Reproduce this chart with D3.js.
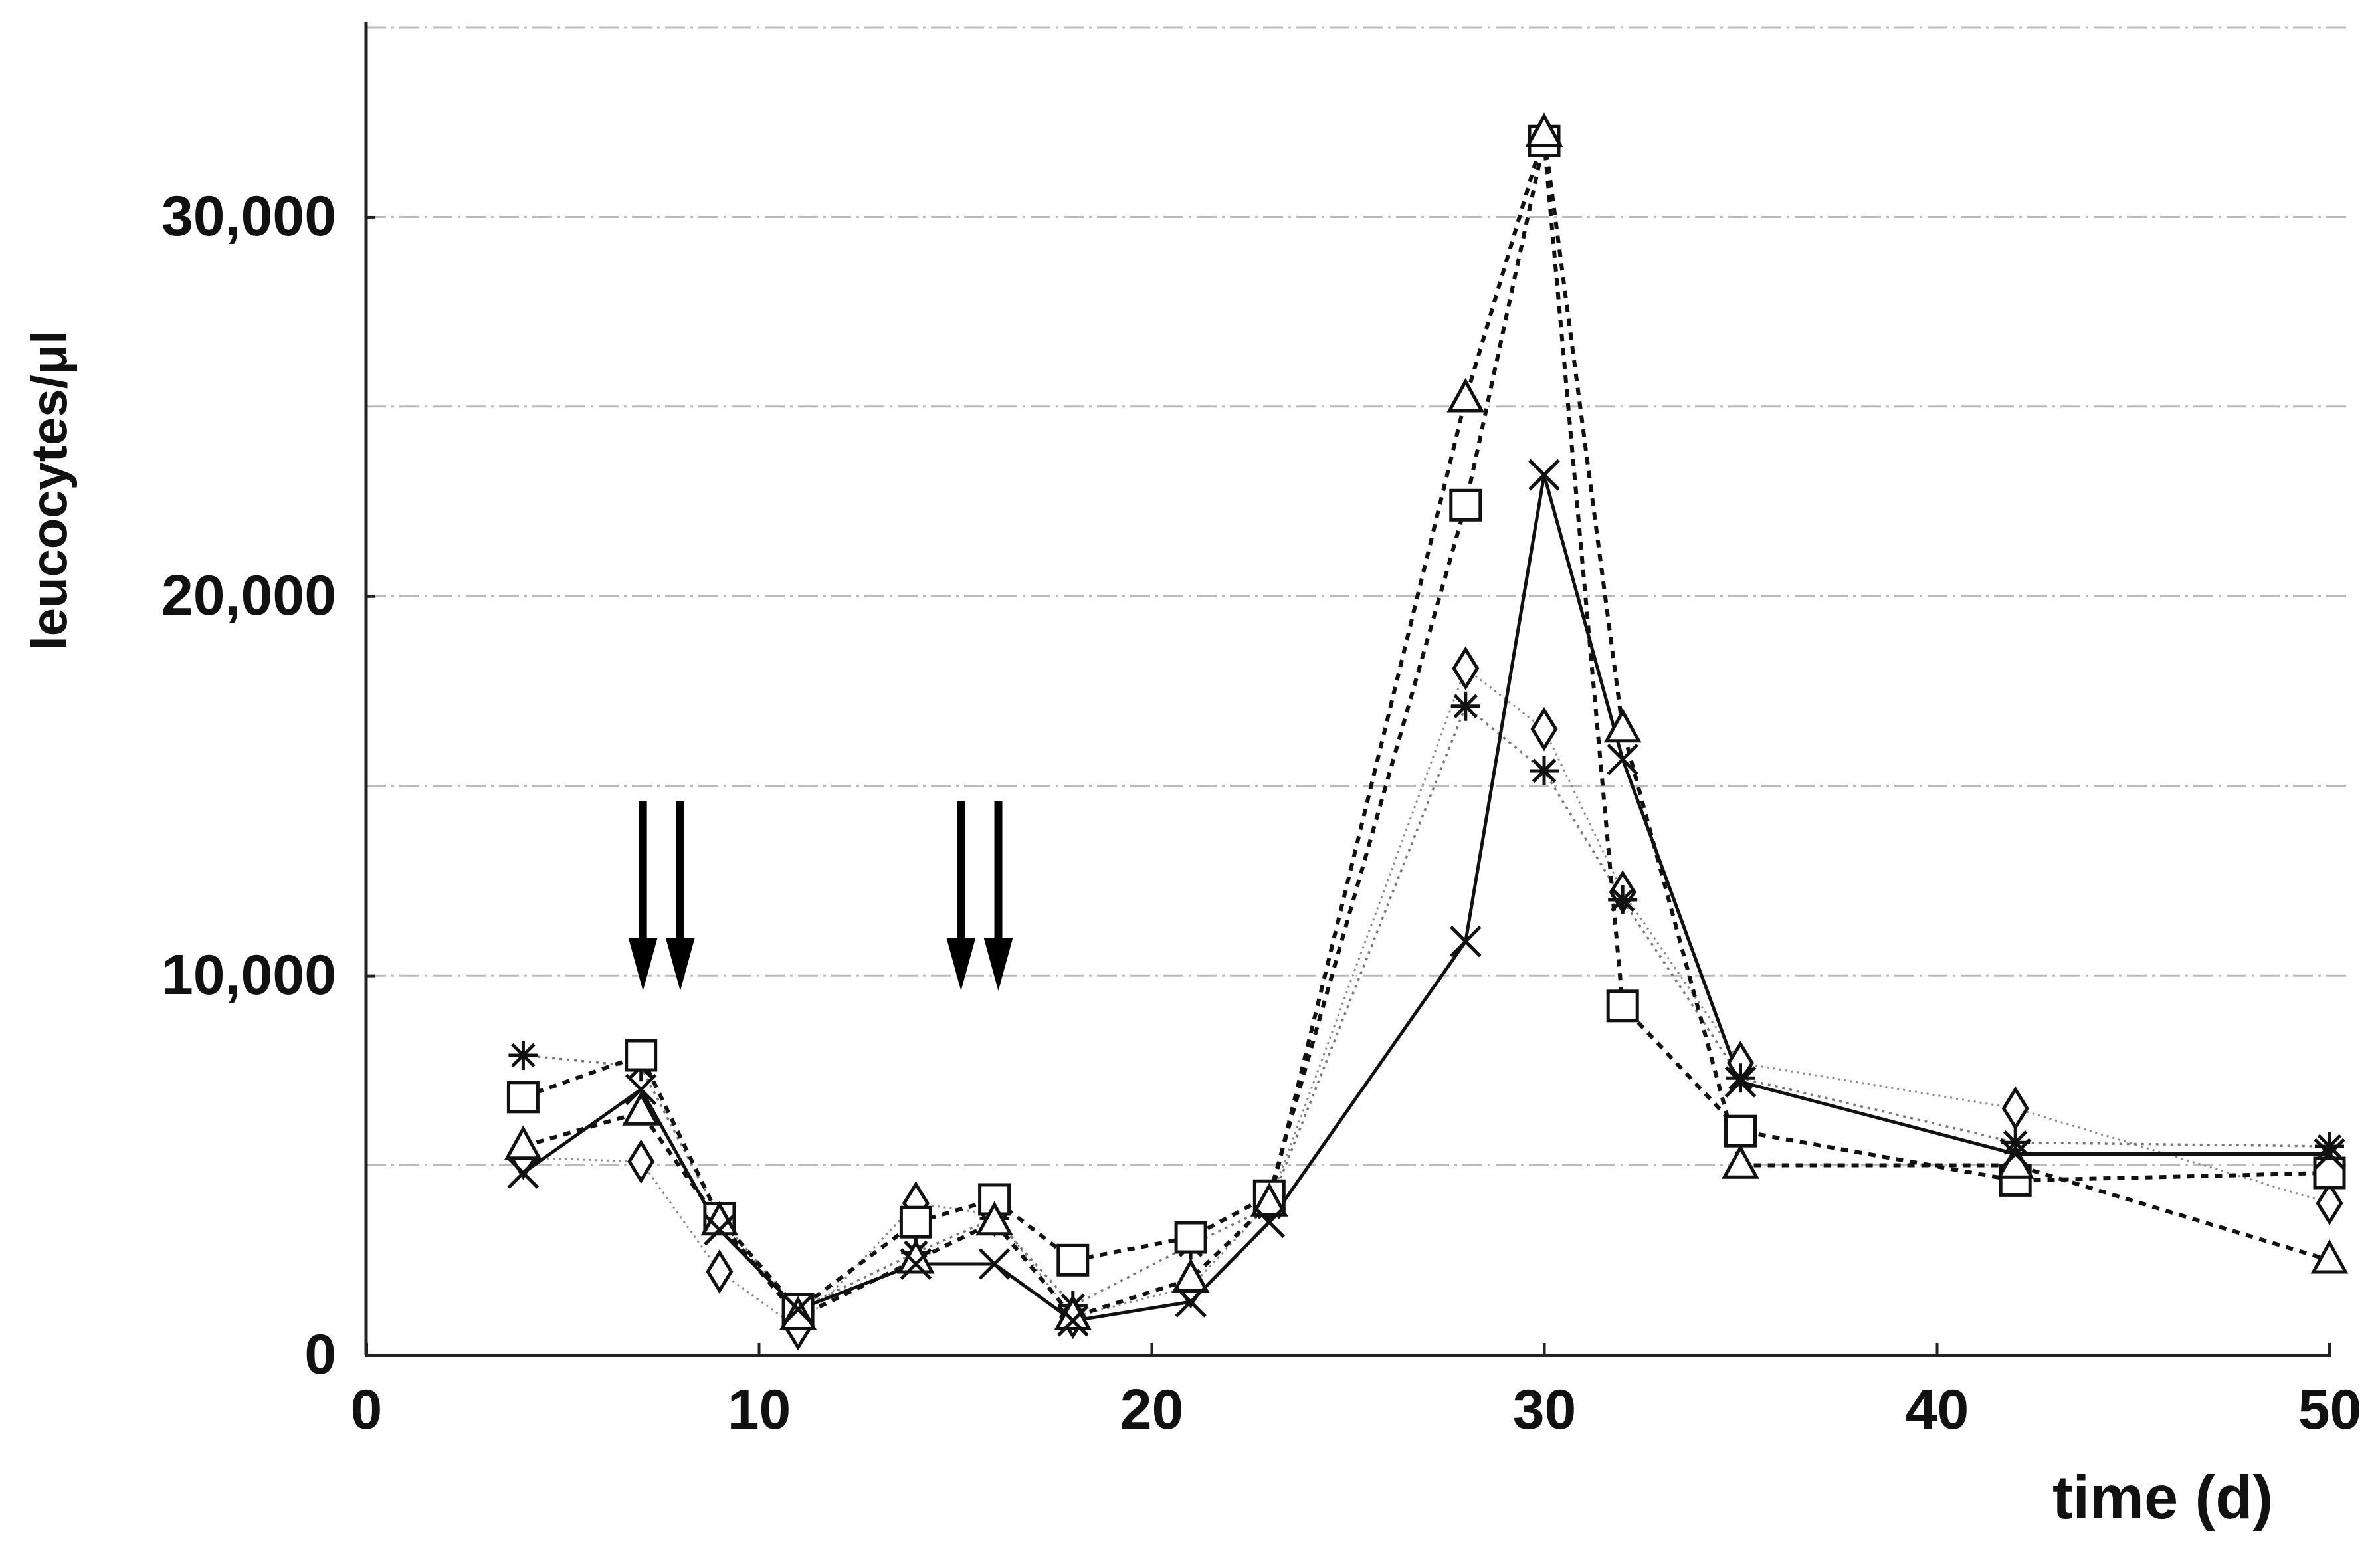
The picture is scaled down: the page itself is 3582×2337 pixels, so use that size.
<!DOCTYPE html>
<html>
<head>
<meta charset="utf-8">
<script src="https://cdn.jsdelivr.net/npm/d3@7"></script>
<style>
  body { margin: 0; background: #fff; }
  text { font-family: "Liberation Sans", Arial, sans-serif; font-weight: bold; fill: #111; }
</style>
</head>
<body>
<svg id="chart" width="3582" height="2337"></svg>
<script>
const days = [4, 7, 9, 11, 14, 16, 18, 21, 23, 28, 30, 32, 35, 42, 50];
const crossVals    = [4800, 7000, 3300, 1200, 2400, 2400, 900, 1400, 3500, 10900, 23200, 15700, 7200, 5300, 5300];
const squareVals   = [6800, 7900, 3600, 1200, 3500, 4100, 2500, 3100, 4200, 22400, 32000, 9200, 5900, 4600, 4800];
const triangleVals = [5500, 6400, 3500, 1000, 2500, 3500, 1000, 2000, 4000, 25200, 32200, 16500, 5000, 5000, 2500];
const diamondVals  = [5200, 5100, 2200, 700, 4000, 3700, 1000, 1800, 4000, 18100, 16500, 12200, 7700, 6500, 4000];
const starVals     = [7900, 7600, 3600, 1200, 2700, 3600, 1300, 2900, 3900, 17100, 15400, 12000, 7300, 5600, 5500];
const xTicks = [0, 10, 20, 30, 40, 50];
const yTicks = [0, 10000, 20000, 30000];
const gridVals = [5000, 10000, 15000, 20000, 25000, 30000, 35000];
const arrowDays = [7.05, 8.0, 15.15, 16.1];

const series = [
  { vals: diamondVals, sym: 'diamond', dash: '3,6', width: 3, color: '#888' },
  { vals: starVals, sym: 'star', dash: '4,7', width: 3.5, color: '#777' },
  { vals: squareVals, sym: 'square', dash: '11,10', width: 6, color: '#111' },
  { vals: triangleVals, sym: 'triangle', dash: '11,10', width: 6, color: '#111' },
  { vals: crossVals, sym: 'cross', dash: null, width: 5, color: '#111' }
];

const svg = d3.select('#chart');
const margin = { left: 551, right: 76, top: 34, bottom: 298 };
const W = 3582, H = 2337;
const x = d3.scaleLinear().domain([0, 50]).range([margin.left, W - margin.right]);
const y = d3.scaleLinear().domain([0, 35000]).range([H - margin.bottom, 41]);

// faint grid
svg.append('g').selectAll('line').data(gridVals).enter().append('line')
  .attr('x1', x(0)).attr('x2', x(50) + 30)
  .attr('y1', d => y(d)).attr('y2', d => y(d))
  .attr('stroke', '#bbb').attr('stroke-width', 3).attr('stroke-dasharray', '30,8,4,8');

// axes
const xAxis = svg.append('g').attr('transform', `translate(0,${y(0)})`)
  .call(d3.axisBottom(x).tickValues(xTicks).tickSize(-18).tickPadding(50).tickFormat(d3.format('d')));
const yAxis = svg.append('g').attr('transform', `translate(${x(0)},0)`)
  .call(d3.axisLeft(y).tickValues(yTicks).tickSize(-14).tickPadding(45).tickFormat(d3.format(',')));
[xAxis, yAxis].forEach(a => {
  a.select('.domain').attr('stroke', '#222').attr('stroke-width', 5);
  a.selectAll('.tick line').attr('stroke', '#222').attr('stroke-width', 4);
  a.selectAll('text').attr('font-size', 86).style('font-family', '"Liberation Sans", Arial, sans-serif').style('font-weight', 'bold').attr('fill', '#111');
});
yAxis.select('.domain').attr('d', `M0,${y(0)}V${y(35000) - 8}`);

// lines
const line = d3.line().x((d, i) => x(days[i])).y(d => y(d));
series.forEach(s => {
  svg.append('path').datum(s.vals).attr('d', line)
    .attr('fill', 'none').attr('stroke', s.color).attr('stroke-width', s.width)
    .attr('stroke-dasharray', s.dash);
});

// markers
const R = 22;
function drawSym(g, sym) {
  if (sym === 'square') g.append('rect').attr('x', -R).attr('y', -R).attr('width', 2 * R).attr('height', 2 * R);
  else if (sym === 'triangle') g.append('path').attr('d', `M0,${-R * 1.2}L${R * 1.1},${R * 0.8}L${-R * 1.1},${R * 0.8}Z`);
  else if (sym === 'diamond') g.append('path').attr('d', `M0,${-R * 1.3}L${R * 0.8},0L0,${R * 1.3}L${-R * 0.8},0Z`);
  else if (sym === 'cross') g.append('path').attr('d', `M${-R},${-R}L${R},${R}M${R},${-R}L${-R},${R}`);
  else if (sym === 'star') g.append('path').attr('d', `M0,${-R}V${R}M${-R},0H${R}M${-R * 0.75},${-R * 0.75}L${R * 0.75},${R * 0.75}M${R * 0.75},${-R * 0.75}L${-R * 0.75},${R * 0.75}`);
}
series.forEach(s => {
  const g = svg.append('g');
  s.vals.forEach((v, i) => {
    const m = g.append('g').attr('transform', `translate(${x(days[i])},${y(v)})`)
      .attr('fill', s.sym === 'cross' || s.sym === 'star' ? 'none' : '#fff')
      .attr('stroke', '#111').attr('stroke-width', 5);
    drawSym(m, s.sym);
  });
});

// arrows
arrowDays.forEach(d => {
  const g = svg.append('g');
  g.append('line').attr('x1', x(d)).attr('x2', x(d)).attr('y1', y(14600)).attr('y2', y(10800))
    .attr('stroke', '#000').attr('stroke-width', 12);
  g.append('path').attr('d', `M${x(d) - 22},${y(11000)}L${x(d) + 22},${y(11000)}L${x(d)},${y(9600)}Z`).attr('fill', '#000');
});

// labels
svg.append('text').attr('transform', `translate(100,${y(22800)}) rotate(-90)`)
  .attr('text-anchor', 'middle').attr('font-size', 76).text('leucocytes/μl');
svg.append('text').attr('x', 3255).attr('y', 2285).attr('text-anchor', 'middle')
  .attr('font-size', 92).text('time (d)');
</script>
</body>
</html>
